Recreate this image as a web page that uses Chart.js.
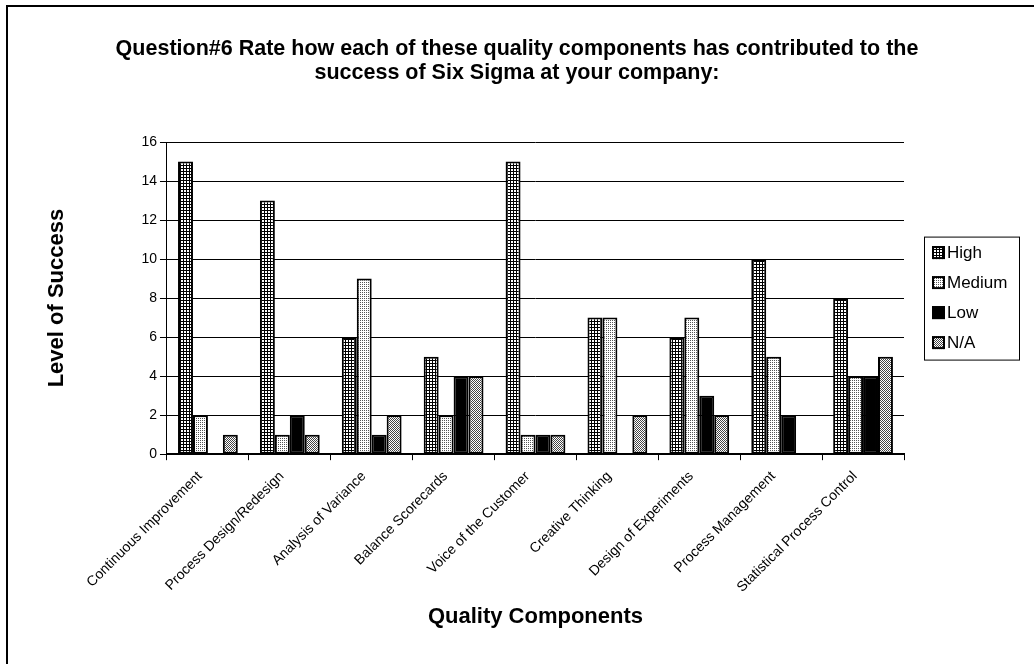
<!DOCTYPE html>
<html>
<head>
<meta charset="utf-8">
<title>Six Sigma quality components</title>
<script src="https://cdn.jsdelivr.net/npm/chart.js@4.4.1/dist/chart.umd.min.js"></script>
<style>
  html, body { margin: 0; padding: 0; background: #fff; }
  #wrap { position: relative; width: 1034px; height: 664px; }
</style>
</head>
<body>
<div id="wrap"><canvas id="chart" width="1034" height="664"></canvas></div>
<script>
// Survey answers per quality component
const categories = [
  'Continuous Improvement', 'Process Design/Redesign', 'Analysis of Variance',
  'Balance Scorecards', 'Voice of the Customer', 'Creative Thinking',
  'Design of Experiments', 'Process Management', 'Statistical Process Control'
];
const seriesNames = ['High', 'Medium', 'Low', 'N/A'];
const highValues   = [15, 13, 6, 5, 15, 7, 6, 10, 8];
const mediumValues = [2, 1, 9, 2, 1, 7, 7, 5, 4];
const lowValues    = [0, 2, 1, 4, 1, 0, 3, 2, 4];
const naValues     = [1, 1, 2, 4, 1, 2, 2, 0, 5];
const yMax = 16;
const yStep = 2;
const titleLines = [
  'Question#6 Rate how each of these quality components has contributed to the',
  'success of Six Sigma at your company:'
];

const FONT = '"Liberation Sans", Arial, Helvetica, sans-serif';

// Monochrome fill patterns built pixel by pixel
function makePattern(size, painter) {
  const c = document.createElement('canvas');
  c.width = size; c.height = size;
  const g = c.getContext('2d');
  g.fillStyle = '#fff';
  g.fillRect(0, 0, size, size);
  painter(g);
  return document.getElementById('chart').getContext('2d').createPattern(c, 'repeat');
}
const gridFill = makePattern(3, g => {        // fine crosshatch
  g.fillStyle = '#000';
  g.fillRect(0, 0, 3, 1);
  g.fillRect(0, 0, 1, 3);
});
const dotFill = makePattern(2, g => {         // sparse dots
  g.fillStyle = '#555';
  g.fillRect(0, 0, 1, 1);
});
const checkFill = makePattern(2, g => {       // dense checker dots
  g.fillStyle = '#444';
  g.fillRect(0, 0, 1, 1);
  g.fillRect(1, 1, 1, 1);
});
const fills = [gridFill, dotFill, '#000', checkFill];
const valueSets = [highValues, mediumValues, lowValues, naValues];

// Outer frame and white page
const framePlugin = {
  id: 'frame',
  beforeDraw(chart) {
    const ctx = chart.ctx;
    ctx.save();
    ctx.fillStyle = '#fff';
    ctx.fillRect(0, 0, chart.width, chart.height);
    ctx.strokeStyle = '#000';
    ctx.lineWidth = 2;
    ctx.strokeRect(7, 6, chart.width + 20, chart.height + 20);
    ctx.restore();
  }
};

// Two-line heading centred on the whole page
const headingPlugin = {
  id: 'heading',
  afterDraw(chart) {
    const ctx = chart.ctx;
    ctx.save();
    ctx.fillStyle = '#000';
    ctx.font = 'bold 21.5px ' + FONT;
    ctx.textAlign = 'center';
    ctx.textBaseline = 'middle';
    titleLines.forEach((line, i) => ctx.fillText(line, chart.width / 2, 49 + i * 24));
    ctx.restore();
  }
};

// Boxed legend to the right of the plot
const boxLegendPlugin = {
  id: 'boxLegend',
  afterDraw(chart) {
    const ctx = chart.ctx;
    const area = chart.chartArea;
    const left = area.right + 20, width = 95;
    const rowGap = 30;
    const rows = chart.data.datasets.length;
    const height = rows * rowGap + 3;
    const top = (area.top + area.bottom) / 2 - height / 2;
    ctx.save();
    ctx.fillStyle = '#fff';
    ctx.fillRect(left, top, width, height);
    ctx.strokeStyle = '#000';
    ctx.lineWidth = 1;
    ctx.strokeRect(left + 0.5, top + 0.5, width, height);
    ctx.font = '17px ' + FONT;
    ctx.textBaseline = 'middle';
    chart.data.datasets.forEach((ds, i) => {
      const cy = top + 16 + i * rowGap;
      const bx = left + 8, bs = 13;
      ctx.fillStyle = ds.backgroundColor;
      ctx.fillRect(bx, cy - bs / 2, bs, bs);
      ctx.lineWidth = 2;
      ctx.strokeStyle = '#000';
      ctx.strokeRect(bx + 1, cy - bs / 2 + 1, bs - 2, bs - 2);
      ctx.fillStyle = '#000';
      ctx.fillText(ds.label, bx + bs + 2, cy + 1);
    });
    ctx.restore();
  }
};

Chart.defaults.color = '#000';
Chart.defaults.font.family = FONT;

new Chart(document.getElementById('chart'), {
  type: 'bar',
  data: {
    labels: categories,
    datasets: seriesNames.map((name, i) => ({
      label: name,
      data: valueSets[i],
      backgroundColor: fills[i],
      borderColor: '#000',
      borderWidth: 2,
      borderSkipped: false,
      categoryPercentage: 0.73,
      barPercentage: 1.0
    }))
  },
  options: {
    responsive: false,
    animation: false,
    devicePixelRatio: 1,
    layout: { padding: { left: 44, right: 130, top: 142, bottom: 26 } },
    plugins: {
      legend: { display: false },
      tooltip: { enabled: false },
      title: { display: false }
    },
    scales: {
      x: {
        grid: { display: true, drawOnChartArea: false, drawTicks: true, tickLength: 6, color: '#000', offset: true },
        border: { display: true, color: '#000', width: 2 },
        ticks: { autoSkip: false, minRotation: 45, maxRotation: 45, padding: 8, labelOffset: -8,
                 font: { family: FONT, size: 14 }, color: '#000' },
        title: { display: true, text: 'Quality Components', color: '#000',
                 font: { family: FONT, size: 22, weight: 'bold', lineHeight: 1.2 },
                 padding: { top: 0, bottom: 8 } }
      },
      y: {
        min: 0, max: yMax,
        grid: { color: '#000', lineWidth: 1, tickLength: 7 },
        border: { display: true, color: '#000', width: 1 },
        ticks: { stepSize: yStep, padding: 3, font: { family: FONT, size: 14 }, color: '#000' },
        title: { display: true, text: 'Level of Success', color: '#000',
                 font: { family: FONT, size: 22, weight: 'bold', lineHeight: 1.2 },
                 padding: { top: 0, bottom: 68 } }
      }
    }
  },
  plugins: [framePlugin, headingPlugin, boxLegendPlugin]
});
</script>
</body>
</html>
